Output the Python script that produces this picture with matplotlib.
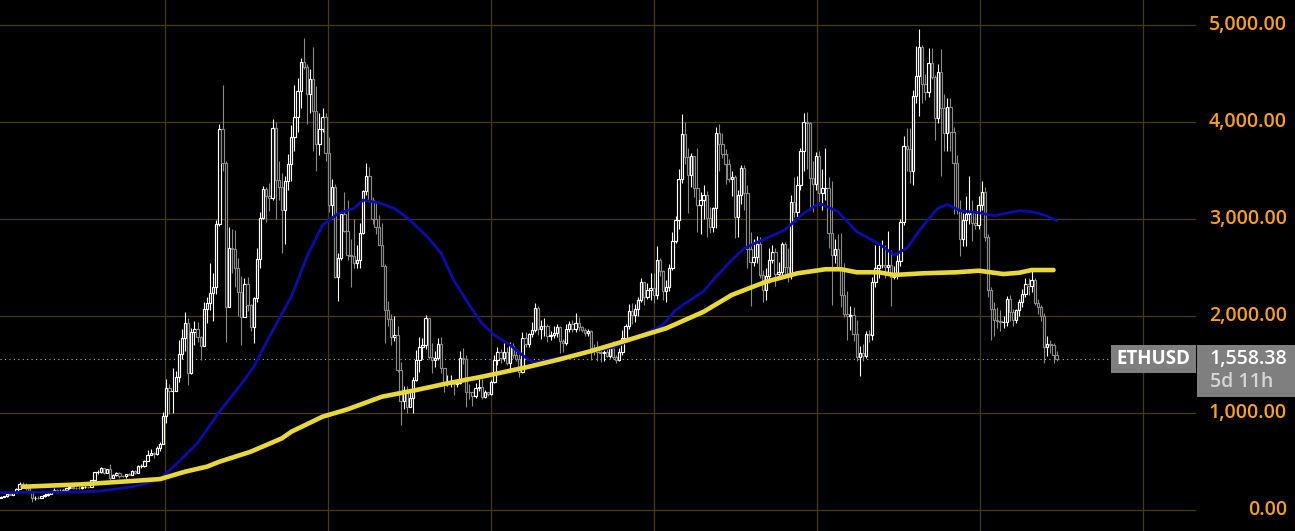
import matplotlib
matplotlib.use('Agg')
import matplotlib.pyplot as plt
import matplotlib.dates as mdates
import matplotlib.transforms as mtransforms
from matplotlib.patches import Rectangle
import numpy as np
import pandas as pd

# ---------------- data ----------------
symbol = 'ETHUSD'
last_price_label = '1,558.38'
countdown_label = '5d 11h'
first_week = '2019-12-30'
first_open = 129

close_2020 = [136,146,167,162,189,223,268,261,225,200,124,131,125,143,158,171,197,211,188,200,207,231,244,233,229,225,241,241,236,310,390,395,433,385,428,335,365,385,355,352,370,365,406,383,455,460,510,575,590,585,640,685,975]
high_2020 = [145,150,175,176,190,229,288,287,282,252,203,146,150,148,176,187,199,227,215,215,215,235,253,251,240,248,249,250,245,315,398,415,445,439,430,480,378,397,394,368,376,384,418,412,470,480,520,618,635,605,660,700,1010]
low_2020 = [127,136,141,155,158,184,222,245,212,193,90,110,120,125,140,151,163,189,182,185,192,202,222,224,219,216,223,235,232,236,308,370,380,375,382,315,328,350,335,340,336,360,365,378,381,435,447,505,568,540,570,615,680]

close_2021 = [1260,1230,1230,1370,1610,1780,1935,1420,1835,1870,1790,1690,2080,2140,2240,2300,2950,3930,3580,2100,2700,2690,2500,2250,1990,2330,2120,1890,2190,2590,3010,3310,3240,3220,3940,3410,3330,3100,3390,3570,3850,4050,4320,4620,4570,4290,4450,4120,3780,3930,4050,3680]
high_2021 = [1350,1300,1470,1440,1760,1870,2040,1980,1880,1950,1940,1800,2150,2200,2550,2450,2990,3980,4380,3600,2920,2900,2890,2600,2420,2400,2410,2130,2200,2700,3080,3340,3330,3370,4030,4000,3600,3480,3450,3670,3970,4380,4460,4660,4870,4600,4550,4780,4370,4100,4150,4100]
low_2021 = [900,990,1000,1270,1320,1560,1640,1290,1410,1700,1730,1550,1690,1930,2070,1950,2230,2930,3500,1730,2100,2450,2300,2000,1700,1990,2050,1850,1720,2150,2500,3000,2970,3090,3200,3000,3200,2650,2750,3300,3400,3700,3900,4150,4550,3980,4100,3700,3500,3660,3900,3600]

close_2022 = [3150,3330,2410,2600,3050,2880,2630,2620,2550,2580,2860,3290,3450,3200,3000,2920,2730,2520,2060,1970,1790,1810,1450,1125,1240,1070,1160,1340,1550,1680,1700,1980,1580,1550,1575,1715,1470,1310,1310,1325,1300,1310,1570,1560,1220,1215,1175,1260,1275,1165,1220,1195]
high_2022 = [3850,3420,3360,2650,3070,3280,3200,2800,3000,2740,2960,3300,3580,3540,3230,3180,3040,2960,2540,2160,2020,2000,1900,1530,1280,1280,1240,1370,1650,1790,1780,2010,1960,1720,1640,1780,1790,1420,1400,1400,1340,1340,1640,1670,1600,1300,1210,1310,1350,1350,1240,1220]
low_2022 = [3080,3000,2400,2160,2580,2870,2580,2300,2500,2500,2500,2850,3250,3180,2950,2850,2730,2520,1720,1900,1700,1750,1430,880,1040,1000,1070,1000,1330,1430,1560,1660,1560,1420,1480,1550,1420,1220,1280,1270,1190,1270,1300,1510,1070,1150,1080,1160,1230,1150,1160,1180]

close_2023 = [1320,1550,1630,1570,1630,1515,1690,1600,1560,1430,1780,1710,1820,1855,2090,1870,1900,1900,1800,1810,1830,1890,1750,1720,1870,1920,1870,1930,1890,1860,1830,1850,1670,1650,1630,1620,1630,1590,1670,1580,1550,1630,1780,1900,2050,2010,2080,2170,2350,2200,2270,2290]
high_2023 = [1340,1600,1680,1660,1720,1680,1740,1720,1660,1610,1840,1840,1830,1940,2140,2110,1960,1980,1920,1850,1900,1920,1900,1770,1920,1950,1960,2030,1990,1900,1880,1870,1860,1710,1750,1660,1650,1660,1680,1750,1600,1670,1860,1920,2130,2140,2130,2200,2400,2350,2340,2450]
low_2023 = [1190,1310,1500,1520,1540,1500,1460,1570,1540,1370,1420,1680,1680,1790,1840,1810,1770,1800,1730,1760,1780,1790,1620,1630,1700,1840,1840,1840,1850,1840,1800,1800,1550,1600,1540,1530,1540,1580,1570,1560,1520,1540,1600,1760,1870,1920,1940,2000,2150,2120,2180,2170]

close_2024 = [2220,2580,2470,2260,2300,2500,2780,2990,3420,3880,3640,3460,3650,3320,3150,3200,3250,3010,2920,3120,3890,3780,3670,3570,3420,3440,3020,3250,3530,3270,2690,2560,2610,2750,2425,2270,2420,2580,2660,2440,2460,2750,2510,2420,3180,3080,3350,3700,4000,3990,3430,3360,3650]
high_2024 = [2450,2720,2600,2480,2370,2540,2870,3030,3520,4090,4000,3730,3680,3650,3730,3280,3350,3290,3130,3130,3950,3980,3890,3720,3620,3500,3460,3300,3560,3560,3350,2870,2800,2830,2820,2480,2500,2700,2730,2700,2560,2770,2770,2700,3250,3440,3450,3740,4100,4110,4000,3600,3690]
low_2024 = [2140,2180,2420,2170,2150,2260,2480,2760,2900,3370,3570,3060,3330,3230,2870,2850,3000,2820,2860,2870,2910,3500,3630,3360,3380,3240,2810,2820,3160,3100,2500,2110,2520,2550,2400,2150,2170,2340,2550,2310,2380,2420,2440,2350,2380,3020,3020,3300,3500,3520,3100,3080,3300]

close_2025 = [3270,3320,3320,2860,2630,2690,2500,2220,2020,2000,2010,1820,1580,1620,1590,1820,1810,2350,2500,2530,2530,2510,2530,2410,2430,2570,2970,3760,3720,3500,4270,4480,4780,4390,4310,4610,4470,4040,4520,4150,3890,4160,3900,3580,3100,2800,2990,3050,3080,2960,2940,3150]
high_2025 = [3700,3520,3740,3440,3400,2800,2850,2860,2550,2260,2110,2100,1960,1690,1710,1850,1860,2410,2740,2740,2790,2740,2880,2680,2520,2630,3000,3860,3940,3940,4330,4790,4960,4800,4500,4770,4770,4490,4600,4760,4290,4250,4250,3950,3660,3200,3060,3240,3450,3200,3080,3240]
low_2025 = [3150,3100,3200,2700,2120,2550,2490,2100,1990,1760,1860,1750,1540,1385,1540,1570,1740,1760,2300,2400,2500,2400,2450,2110,2380,2380,2520,2940,3500,3370,3350,4200,4060,4200,4230,4260,4450,3820,3990,3450,3700,3700,3700,3050,3050,2620,2720,2720,2950,2780,2900,2900]

close_2026 = [3280,2815,2270,2080,1960,1955,1940,1945,2180,2040,1960,2060,2150,2230,2330,2310,2370,2140,2100,2000,1680,1710,1700,1600,1558.38]
high_2026 = [3400,3330,2850,2300,2150,2100,2060,2000,2210,2220,2080,2080,2180,2280,2390,2400,2470,2390,2180,2120,2030,1800,1760,1720,1640]
low_2026 = [3100,2780,2200,1760,1800,1880,1850,1880,1900,1950,1900,1930,2000,2100,2200,2220,2250,2120,2020,1950,1520,1595,1620,1520,1540]

# moving averages, indexed by candle week
ma_fast_weeks = [0,10,26,32,42,47,51,57,63,70,78,81,86,93,98,103,108,113,116,121,126,131,137,141,145,150,154,158,163,169,171,178,189,197,205,212,216,225,229,234,238,245,251,257,262,268,274,281,286,290,295,300,303,307,313,318,326,330,334,338]
ma_fast_vals = [181,186,190,199,243,281,322,501,694,1016,1343,1480,1790,2202,2614,2941,3060,3113,3199,3171,3113,2993,2804,2649,2374,2116,1928,1807,1704,1549,1522,1567,1635,1687,1807,1910,2065,2260,2409,2580,2701,2804,2890,3062,3165,3079,2873,2750,2632,2701,2924,3113,3155,3089,3068,3037,3089,3079,3044,2986]
ma_slow_weeks = [7,26,42,51,59,66,70,80,90,93,103,111,122,133,143,154,169,178,189,199,213,225,234,245,255,264,269,274,281,286,295,306,313,321,326,330,337]
ma_slow_vals = [243,268,302,322,398,450,501,604,742,810,965,1041,1171,1240,1309,1377,1480,1549,1642,1738,1876,2047,2220,2357,2443,2485,2485,2454,2454,2426,2443,2454,2470,2436,2449,2477,2477]

y_ticks = [0, 1000, 2000, 3000, 4000, 5000]
grid_years = [2021, 2022, 2023, 2024, 2025, 2026, 2027]

# ---------------- assemble ----------------
closes = np.array(close_2020 + close_2021 + close_2022 + close_2023 + close_2024 + close_2025 + close_2026, dtype=float)
highs = np.array(high_2020 + high_2021 + high_2022 + high_2023 + high_2024 + high_2025 + high_2026, dtype=float)
lows = np.array(low_2020 + low_2021 + low_2022 + low_2023 + low_2024 + low_2025 + low_2026, dtype=float)
opens = np.concatenate([[first_open], closes[:-1]])
highs = np.maximum(highs, np.maximum(opens, closes))
lows = np.minimum(lows, np.minimum(opens, closes))
last_price = closes[-1]

dates = pd.date_range(first_week, periods=len(closes), freq='7D')
xd = mdates.date2num(dates.to_pydatetime())

# ---------------- style ----------------
W, H = 1295, 531
BG = '#000000'
GRID = '#463c14'
UP = '#ffffff'
DOWN = '#8a8a8a'
BLUE = '#0c0ca8'
YELLOW = '#e8d83c'
ORANGE = '#f7a028'
BOX = '#7f7f7f'
FONT = ['Open Sans', 'DejaVu Sans']

fig = plt.figure(figsize=(W / 100, H / 100), dpi=100, facecolor=BG)
plot_right_px = 1196
ax = fig.add_axes([0, 0, plot_right_px / W, 1])
ax.set_facecolor(BG)
for s in ax.spines.values():
    s.set_visible(False)
ax.tick_params(left=False, bottom=False, labelleft=False, labelbottom=False)

# axis limits (px -> data mapping of the reference)
px_per_year = 163.0
ref_date = mdates.date2num(pd.Timestamp('2021-01-01').to_pydatetime())
ref_px = 165.0
days_per_px = 365.25 / px_per_year
ax.set_xlim(ref_date - ref_px * days_per_px, ref_date + (plot_right_px - ref_px) * days_per_px)
zero_px, px_per_1000 = 510.3, 97.0
ax.set_ylim(-(H - zero_px) / px_per_1000 * 1000, zero_px / px_per_1000 * 1000)

# grid
for yv in y_ticks:
    ax.axhline(yv, color=GRID, lw=0.9, zorder=0)
for yr in grid_years:
    ax.axvline(mdates.date2num(pd.Timestamp(f'{yr}-01-01').to_pydatetime()), color=GRID, lw=0.9, zorder=0)

# candles
up = closes >= opens
cols = np.where(up, UP, DOWN)
ax.vlines(xd, lows, highs, colors=cols, linewidth=0.8, zorder=2)
body_w = 5.2
for xi, o, c, col in zip(xd, opens, closes, cols):
    b = min(o, c)
    h = abs(c - o)
    ax.add_patch(Rectangle((xi - body_w / 2, b), body_w, h, facecolor=BG, edgecolor=col,
                           linewidth=0.85, zorder=3))

# moving averages
ax.plot(xd[ma_fast_weeks], ma_fast_vals, color=BLUE, lw=2.0, zorder=4,
        solid_capstyle='round', solid_joinstyle='round')
ax.plot(xd[ma_slow_weeks], ma_slow_vals, color=YELLOW, lw=3.3, zorder=5,
        solid_capstyle='round', solid_joinstyle='round')

# last price dotted line
ax.axhline(last_price, xmin=0, xmax=1110 / plot_right_px, color='#b4b4b4', lw=0.8,
           ls=(0, (1, 3)), zorder=1)

# y tick labels on the right
blend = mtransforms.blended_transform_factory(fig.transFigure, ax.transData)
for yv in y_ticks:
    fig.text(1287 / W, yv, f'{yv:,.2f}', transform=blend, ha='right', va='center',
             color=ORANGE, fontsize=14, fontweight='semibold', family=FONT)

# price boxes
fig.canvas.draw()
py = ax.transData.transform((xd[0], last_price))[1]  # display px from bottom
fig.add_artist(Rectangle((1111 / W, (py - 14) / H), 85 / W, 28 / H, transform=fig.transFigure,
                         facecolor=BOX, edgecolor='none', zorder=10))
fig.add_artist(Rectangle((1197 / W, (py - 38) / H), 98 / W, 52 / H, transform=fig.transFigure,
                         facecolor=BOX, edgecolor='none', zorder=10))
fig.text(1153.5 / W, py / H, symbol, ha='center', va='center', color='white', fontsize=13.5,
         fontweight='bold', family=FONT, zorder=11)
fig.text(1287 / W, py / H, last_price_label, ha='right', va='center', color='white',
         fontsize=14, fontweight='semibold', family=FONT, zorder=11)
fig.text(1210 / W, (py - 23) / H, countdown_label, ha='left', va='center', color='#d6d6d6',
         fontsize=14, fontweight='semibold', family=FONT, zorder=11)

fig.savefig('out.png', dpi=100, facecolor=BG)
